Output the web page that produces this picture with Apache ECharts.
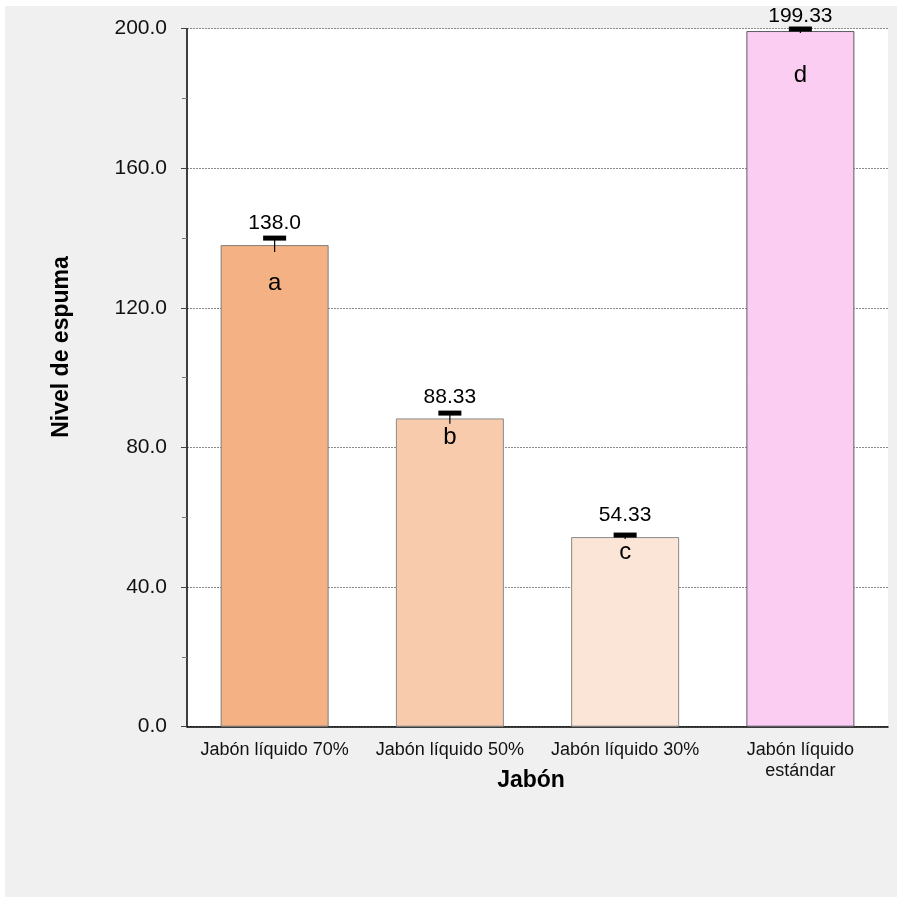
<!DOCTYPE html>
<html>
<head>
<meta charset="utf-8">
<script src="https://cdn.jsdelivr.net/npm/echarts@6/dist/echarts.min.js"></script>
<style>
  html, body { margin: 0; padding: 0; background: #ffffff; }
  #chart { position: absolute; left: 5px; top: 6px; width: 892px; height: 891px; }
</style>
</head>
<body>
<div id="chart"></div>
<script>
// Foam level per soap formulation (mean ± SD) with significance letters
const categories = ['Jabón líquido 70%', 'Jabón líquido 50%', 'Jabón líquido 30%', 'Jabón líquido\nestándar'];
const means = [138.0, 88.33, 54.33, 199.33];
const sds = [2.0, 1.53, 0.58, 0.58];
const valueLabels = ['138.0', '88.33', '54.33', '199.33'];
const groupLetters = ['a', 'b', 'c', 'd'];

// Styling
const barColors = ['#f4b183', '#f8cbad', '#fbe5d6', '#fbcdf3'];
const barBorders = ['#7f7f7f', '#8a8a8a', '#8a8a8a', '#5f5866'];
const letterDrop = [38, 19, 15, 44];   // px below each bar top for the letter
const FONT = '"Liberation Sans", Arial, sans-serif';

const chart = echarts.init(document.getElementById('chart'));

const errData = means.map((m, i) => [i, m, sds[i]]);

chart.setOption({
  backgroundColor: '#f0f0f0',
  animation: false,
  textStyle: { fontFamily: FONT },
  grid: {
    left: 182, top: 22.7, width: 701, height: 698,
    show: true, backgroundColor: '#ffffff', borderWidth: 0,
    containLabel: false
  },
  xAxis: {
    type: 'category',
    data: categories,
    axisLine: { lineStyle: { color: '#000', width: 1.5 } },
    axisTick: { show: false },
    axisLabel: { interval: 0, fontSize: 18, color: '#111', margin: 13, lineHeight: 21, fontFamily: FONT }
  },
  yAxis: {
    type: 'value',
    min: 0, max: 200, interval: 40,
    axisLine: { show: true, lineStyle: { color: '#000', width: 1.5 } },
    axisTick: { show: true, length: 6, lineStyle: { color: '#444' } },
    minorTick: { show: true, splitNumber: 2, length: 5, lineStyle: { color: '#777' } },
    splitLine: { show: true, lineStyle: { color: '#8a8a8a', type: [2, 1], width: 1 } },
    axisLabel: { fontSize: 21, color: '#111', margin: 20, fontFamily: FONT,
      formatter: v => v.toFixed(1) }
  },
  graphic: [
    { type: 'text', x: 57, y: 341, rotation: Math.PI / 2,
      style: { text: 'Nivel de espuma', font: 'bold 23px ' + FONT, fill: '#000',
        textAlign: 'center', textVerticalAlign: 'middle' } },
    { type: 'text', x: 526, y: 775,
      style: { text: 'Jabón', font: 'bold 23px ' + FONT, fill: '#000',
        textAlign: 'center', textVerticalAlign: 'middle' } }
  ],
  series: [
    {
      type: 'bar',
      data: means.map((m, i) => ({ value: m, itemStyle: { color: barColors[i], borderColor: barBorders[i] } })),
      barWidth: 108,
      itemStyle: { borderWidth: 1 },
      z: 2
    },
    {
      type: 'custom',
      data: errData,
      clip: false,
      z: 5,
      renderItem: function (params, api) {
        const i = api.value(0), m = api.value(1), s = api.value(2);
        const top = api.coord([i, m + s]);
        const bot = api.coord([i, m - s]);
        const barTop = api.coord([i, m]);
        const x = top[0];
        const labelBottom = Math.max(barTop[1] - 11, 21);
        return {
          type: 'group',
          children: [
            { type: 'line', shape: { x1: x, y1: top[1], x2: x, y2: bot[1] },
              style: { stroke: '#000', lineWidth: 1.2 } },
            { type: 'rect', shape: { x: x - 11.5, y: top[1] - 2.5, width: 23, height: 5 },
              style: { fill: '#000' } },
            { type: 'text', x: x, y: labelBottom,
              style: { text: valueLabels[i], font: '21px ' + FONT, fill: '#000',
                textAlign: 'center', textVerticalAlign: 'bottom' } },
            { type: 'text', x: x, y: barTop[1] + letterDrop[i],
              style: { text: groupLetters[i], font: '24px ' + FONT, fill: '#000',
                textAlign: 'center', textVerticalAlign: 'middle' } }
          ]
        };
      }
    }
  ]
});
</script>
</body>
</html>
